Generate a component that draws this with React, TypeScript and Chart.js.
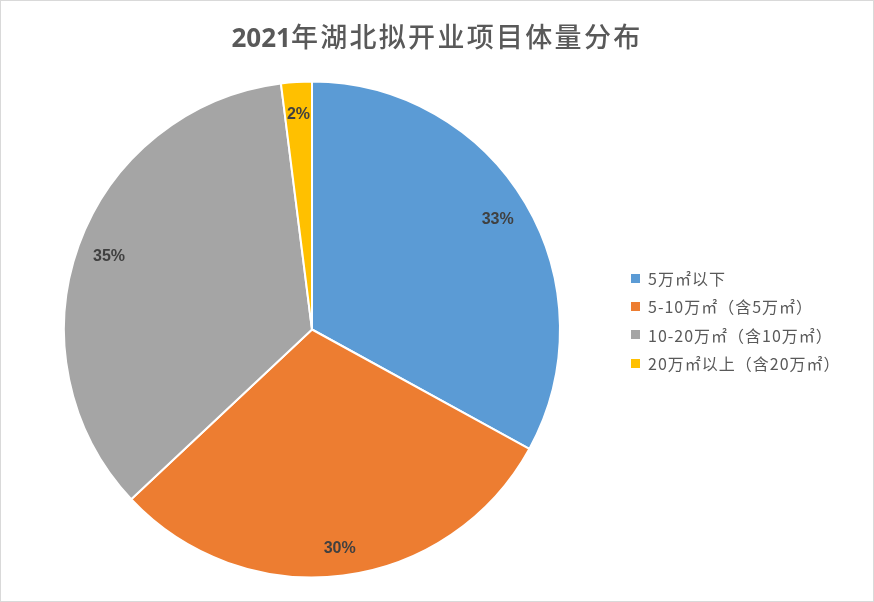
import React, { useEffect, useRef } from "react";
import { Chart, registerables } from "chart.js";

Chart.register(...registerables);

const titleYear = "2021";
const titleRest = "年湖北拟开业项目体量分布";
const categories = ["5万㎡以下", "5-10万㎡（含5万㎡）", "10-20万㎡（含10万㎡）", "20万㎡以上（含20万㎡）"];
const values = [33, 30, 35, 2];
const colors = ["#5B9BD5", "#ED7D31", "#A5A5A5", "#FFC000"];

const labelPlugin = {
  id: "sliceLabels",
  afterDatasetsDraw(chart: any) {
    const ctx = chart.ctx;
    const meta = chart.getDatasetMeta(0);
    const data = chart.data.datasets[0].data as number[];
    const total = data.reduce((a: number, b: number) => a + b, 0);
    ctx.save();
    ctx.font = "bold 16px 'Liberation Sans', 'Open Sans', sans-serif";
    ctx.fillStyle = "#404040";
    ctx.textAlign = "center";
    ctx.textBaseline = "middle";
    meta.data.forEach((arc: any, i: number) => {
      const p = arc.getProps(["x", "y", "startAngle", "endAngle", "outerRadius"], true);
      const mid = (p.startAngle + p.endAngle) / 2;
      const r = p.outerRadius * (i === 1 ? 0.89 : 0.87);
      const x = p.x + Math.cos(mid) * r;
      const y = p.y + Math.sin(mid) * r;
      ctx.fillText(Math.round((data[i] / total) * 100) + "%", x, y);
    });
    ctx.restore();
  },
};

export default function App() {
  const ref = useRef<HTMLCanvasElement>(null);
  useEffect(() => {
    if (!ref.current) return;
    const chart = new Chart(ref.current, {
      type: "pie",
      data: {
        labels: categories,
        datasets: [
          {
            data: values,
            backgroundColor: colors,
            borderColor: "#ffffff",
            borderWidth: 2,
          },
        ],
      },
      options: {
        animation: false,
        responsive: false,
        layout: { padding: { left: 63, right: 313, top: 80, bottom: 23 } },
        plugins: {
          legend: { display: false },
          title: { display: false },
          tooltip: { enabled: false },
        },
      },
      plugins: [labelPlugin],
    });
    return () => chart.destroy();
  }, []);

  return (
    <div
      style={{
        position: "absolute",
        left: 0,
        top: 0,
        width: 874,
        height: 602,
        background: "#fff",
        overflow: "hidden",
      }}
    >
      <canvas ref={ref} width={874} height={602} style={{ position: "absolute", left: 0, top: 0 }} />
      <div
        style={{
          position: "absolute",
          left: 0,
          top: 0,
          width: 872,
          height: 600,
          border: "1px solid #D9D9D9",
          pointerEvents: "none",
        }}
      />
      <div
        style={{
          position: "absolute",
          left: 0,
          top: 17,
          width: 874,
          textAlign: "center",
          color: "#595959",
          fontFamily: "'Noto Sans CJK SC', sans-serif",
          fontSize: 27,
          lineHeight: "38px",
          whiteSpace: "nowrap",
        }}
      >
        <span style={{ fontWeight: "bold", fontFamily: "'Open Sans', sans-serif", fontSize: 26 }}>{titleYear}</span>
        <span style={{ fontWeight: 500, letterSpacing: 2.3 }}>{titleRest}</span>
      </div>
      <div
        style={{
          position: "absolute",
          left: 631,
          top: 264,
          fontFamily: "'Noto Sans CJK SC', sans-serif",
          fontSize: 16,
          letterSpacing: 1,
          color: "#595959",
        }}
      >
        {categories.map((c, i) => (
          <div key={i} style={{ display: "flex", alignItems: "center", height: 28.3, whiteSpace: "nowrap" }}>
            <span style={{ display: "inline-block", width: 9, height: 9, background: colors[i], marginRight: 8 }} />
            <span>{c}</span>
          </div>
        ))}
      </div>
    </div>
  );
}
